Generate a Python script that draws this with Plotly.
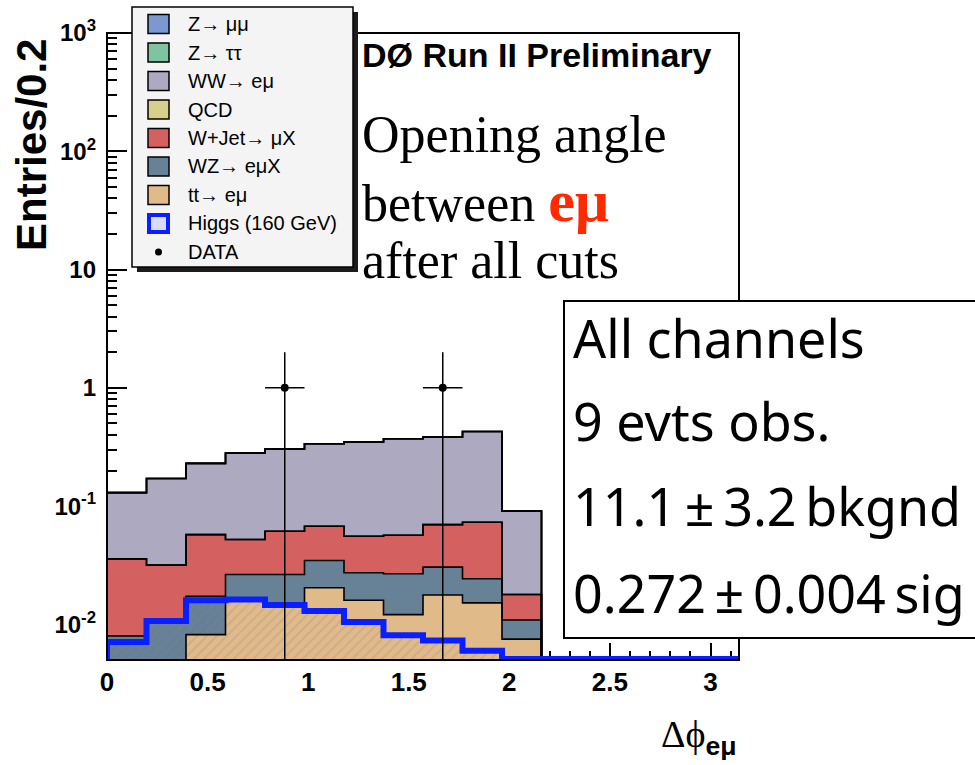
import numpy as np
import plotly.graph_objects as go

# ---- binning: 16 bins over [0, pi], "Entries/0.2" ----
N_BINS = 16
BIN_W = np.pi / N_BINS
edges = np.arange(N_BINS + 1) * BIN_W
centers = edges[:-1] + BIN_W / 2

# ---- expected events per bin for each process ----
z_mumu   = [0, 0, 0, 0, 0, 0, 0, 0, 0, 0, 0, 0, 0, 0, 0, 0]
z_tautau = [0, 0, 0, 0, 0, 0, 0, 0, 0, 0, 0, 0, 0, 0, 0, 0]
qcd      = [0, 0, 0, 0, 0, 0, 0, 0, 0, 0, 0, 0, 0, 0, 0, 0]
ttbar    = [0, 0, 0.0082, 0.0158, 0.0150, 0.0204, 0.0160, 0.0121, 0.0177, 0.0152, 0.0075, 0, 0, 0, 0, 0]
wz       = [0.0080, 0.0106, 0.0091, 0.0106, 0.0114, 0.0143, 0.0113, 0.0147, 0.0128, 0.0091, 0.0034, 0, 0, 0, 0, 0]
wjet     = [0.0278, 0.0211, 0.0401, 0.0258, 0.0349, 0.0329, 0.0283, 0.0299, 0.0393, 0.0488, 0.0070, 0, 0, 0, 0, 0]
ww       = [0.0942, 0.1393, 0.1726, 0.2288, 0.2427, 0.2694, 0.2924, 0.3143, 0.3142, 0.3549, 0.0728, 0, 0, 0, 0, 0]
higgs    = [0.0071, 0.0107, 0.0160, 0.0162, 0.0146, 0.0130, 0.0105, 0.0081, 0.0073, 0.0060, 0.0051, 0.0051, 0.0051, 0.0051, 0.0051, 0.0051]
data_obs = [0, 0, 0, 0, 1, 0, 0, 0, 1, 0, 0, 0, 0, 0, 0, 0]

x_ticks = [0, 0.5, 1, 1.5, 2, 2.5, 3]
x_ticktext = ["0", "0.5", "1", "1.5", "2", "2.5", "3"]
y_ticks = [0.01, 0.1, 1, 10, 100, 1000]
y_ticktext = ["10<sup>-2</sup>", "10<sup>-1</sup>", "1", "10", "10<sup>2</sup>", "10<sup>3</sup>"]

# stack from bottom to top
stack = [
    ("tt→ eμ", ttbar, "#e0ba88"),
    ("WZ→ eμX", wz, "#678196"),
    ("W+Jet→ μX", wjet, "#d4605f"),
    ("QCD", qcd, "#d6d08c"),
    ("WW→ eμ", ww, "#aca9c1"),
    ("Z→ ττ", z_tautau, "#80c3a1"),
    ("Z→ μμ", z_mumu, "#7b98d0"),
]
legend_rows = [
    ("Z→ μμ", "#7b98d0"),
    ("Z→ ττ", "#80c3a1"),
    ("WW→ eμ", "#aca9c1"),
    ("QCD", "#d6d08c"),
    ("W+Jet→ μX", "#d4605f"),
    ("WZ→ eμX", "#678196"),
    ("tt→ eμ", "#e0ba88"),
]
HIGGS_BLUE = "#0a1fff"

Y_LO, Y_HI = np.log10(0.005), 3.0
FLOOR = 10 ** (Y_LO - 1)  # below the visible range, used to close outlines

# ---- figure geometry (pixels) ----
W, H = 975, 765
L, T, PW, PH = 107, 33, 632, 627


def fx(px):
    return (px - L) / PW


def fy(py):
    return (T + PH - py) / PH


fig = go.Figure()

# filled stack
cum = np.zeros(N_BINS)
outlines = []
for name, vals, color in stack:
    vals = np.asarray(vals, dtype=float)
    fig.add_trace(go.Bar(
        x=centers, y=vals, base=cum.copy(), width=BIN_W,
        marker=dict(color=color, line=dict(width=0)),
        name=name, showlegend=False, hoverinfo="skip",
    ))
    cum = cum + vals
    outlines.append(cum.copy())

# black step outlines of each cumulative level
for c in outlines:
    if not np.any(c > 0):
        continue
    yy = np.where(c > 0, c, FLOOR)
    fig.add_trace(go.Scatter(
        x=np.concatenate([[edges[0]], edges]),
        y=np.concatenate([[FLOOR], yy, [yy[-1]]]),
        mode="lines", line=dict(color="black", width=1.6, shape="hv"),
        showlegend=False, hoverinfo="skip",
    ))

# Higgs signal: hatched fill + thick blue outline
higgs_arr = np.asarray(higgs, dtype=float)
fig.add_trace(go.Bar(
    x=centers, y=higgs_arr, width=BIN_W,
    marker=dict(color="rgba(0,0,0,0)", line=dict(width=0),
                pattern=dict(shape="/", fgcolor="rgba(110,100,150,0.35)",
                             bgcolor="rgba(0,0,0,0)", size=7, solidity=0.25)),
    showlegend=False, hoverinfo="skip",
))
fig.add_trace(go.Scatter(
    x=np.concatenate([[edges[0]], edges]),
    y=np.concatenate([[FLOOR], higgs_arr, [higgs_arr[-1]]]),
    mode="lines", line=dict(color=HIGGS_BLUE, width=6, shape="hv"),
    showlegend=False, hoverinfo="skip",
))

# observed data
obs = np.asarray(data_obs, dtype=float)
sel = obs > 0
obs_err = np.sqrt(obs[sel])
fig.add_trace(go.Scatter(
    x=centers[sel], y=obs[sel], mode="markers",
    marker=dict(color="black", size=8),
    error_y=dict(type="data", symmetric=False, array=obs_err,
                 arrayminus=np.minimum(obs_err, obs[sel] - FLOOR),
                 width=0, thickness=1.5, color="black"),
    error_x=dict(type="data", array=np.full(sel.sum(), BIN_W / 2),
                 width=0, thickness=1.5, color="black"),
    showlegend=False, hoverinfo="skip",
))

tick_font_y = dict(family="Liberation Sans", size=24, color="black", weight="bold")
tick_font_x = dict(family="Liberation Sans", size=26, color="black", weight="bold")

fig.update_layout(
    width=W, height=H,
    margin=dict(l=L, r=W - L - PW, t=T, b=H - T - PH, pad=0),
    paper_bgcolor="white", plot_bgcolor="white",
    barmode="overlay", bargap=0,
    showlegend=False,
    xaxis=dict(
        range=[0, np.pi], showgrid=False, zeroline=False, showline=False,
        tickmode="array", tickvals=x_ticks, ticktext=x_ticktext,
        ticks="inside", ticklen=17, tickwidth=1.5, tickcolor="black",
        minor=dict(dtick=0.1, ticks="inside", ticklen=9, tickwidth=1.5, tickcolor="black"),
        tickfont=tick_font_x, ticklabelstandoff=4, layer="below traces",
    ),
    yaxis=dict(
        type="log", range=[Y_LO, Y_HI], showgrid=False, zeroline=False, showline=False,
        tickmode="array", tickvals=y_ticks, ticktext=y_ticktext,
        ticks="inside", ticklen=20, tickwidth=1.5, tickcolor="black",
        minor=dict(tickmode="array",
                   tickvals=[m * 10.0 ** k for k in range(-3, 3) for m in range(2, 10)],
                   ticks="inside", ticklen=10, tickwidth=1.5, tickcolor="black"),
        tickfont=tick_font_y, ticklabelstandoff=10, layer="below traces",
    ),
)

shapes = []
# plot frame
shapes.append(dict(type="rect", xref="x domain", yref="y domain", x0=0, x1=1, y0=0, y1=1,
                   line=dict(color="black", width=2), fillcolor="rgba(0,0,0,0)", layer="above"))

# legend box with drop shadow
LEG = (132, 7, 353, 267)
shapes.append(dict(type="rect", xref="paper", yref="paper",
                   x0=fx(LEG[0] + 5), x1=fx(LEG[2] + 5), y0=fy(LEG[3] + 5), y1=fy(LEG[1] + 5),
                   line=dict(width=0), fillcolor="#1c1c1c", layer="above"))
shapes.append(dict(type="rect", xref="paper", yref="paper",
                   x0=fx(LEG[0]), x1=fx(LEG[2]), y0=fy(LEG[3]), y1=fy(LEG[1]),
                   line=dict(color="black", width=1.5), fillcolor="#f4f4f4", layer="above"))

legend_font = dict(family="Liberation Sans", size=20, color="black")
annotations = []
row_y = [24 + 28.5 * i for i in range(9)]
for (label, color), ry in zip(legend_rows, row_y):
    shapes.append(dict(type="rect", xref="paper", yref="paper",
                       x0=fx(148), x1=fx(169), y0=fy(ry + 9.5), y1=fy(ry - 9.5),
                       line=dict(color="black", width=1.5), fillcolor=color, layer="above"))
    annotations.append(dict(text=label, x=fx(186), y=fy(ry), xref="paper", yref="paper",
                            xanchor="left", yanchor="middle", showarrow=False, font=legend_font))
# Higgs entry
shapes.append(dict(type="rect", xref="paper", yref="paper",
                   x0=fx(149), x1=fx(168), y0=fy(row_y[7] + 8.5), y1=fy(row_y[7] - 8.5),
                   line=dict(color=HIGGS_BLUE, width=4), fillcolor="#d8dcf4", layer="above"))
annotations.append(dict(text="Higgs (160 GeV)", x=fx(186), y=fy(row_y[7]), xref="paper", yref="paper",
                        xanchor="left", yanchor="middle", showarrow=False, font=legend_font))
# DATA entry
shapes.append(dict(type="circle", xref="paper", yref="paper",
                   x0=fx(155), x1=fx(162), y0=fy(row_y[8] + 3.5), y1=fy(row_y[8] - 3.5),
                   line=dict(width=0), fillcolor="black", layer="above"))
annotations.append(dict(text="DATA", x=fx(186), y=fy(row_y[8]), xref="paper", yref="paper",
                        xanchor="left", yanchor="middle", showarrow=False, font=legend_font))

# summary box
shapes.append(dict(type="rect", xref="paper", yref="paper",
                   x0=fx(564), x1=fx(990), y0=fy(638), y1=fy(301),
                   line=dict(color="black", width=2), fillcolor="white", layer="above"))
summary_lines = ["All channels", "9 evts obs.", "11.1\u2009±\u20093.2\u2009bkgnd", "0.272\u2009±\u20090.004\u2009sig"]
for txt, base in zip(summary_lines, [357, 440, 525, 612]):
    annotations.append(dict(text=txt, x=fx(571), y=fy(base - 20), xref="paper", yref="paper",
                            xanchor="left", yanchor="middle", showarrow=False,
                            font=dict(family="Noto Sans", size=52, color="black")))

# experiment tag and description
annotations.append(dict(text="DØ Run II Preliminary", x=fx(360), y=fy(55), xref="paper", yref="paper",
                        xanchor="left", yanchor="middle", showarrow=False,
                        font=dict(family="Liberation Sans", size=34, color="black", weight="bold")))
desc = ["Opening angle",
        "between <span style='color:#ff2a00;font-size:60px'><b>eμ</b></span>",
        "after all cuts"]
for txt, base in zip(desc, [152, 218, 277]):
    annotations.append(dict(text=txt, x=fx(360), y=fy(base - 17), xref="paper", yref="paper",
                            xanchor="left", yanchor="middle", showarrow=False,
                            font=dict(family="Liberation Serif", size=52, color="black")))

# axis titles
annotations.append(dict(text="Entries/0.2", x=fx(31), y=fy(145), xref="paper", yref="paper",
                        xanchor="center", yanchor="middle", textangle=-90, showarrow=False,
                        font=dict(family="Liberation Sans", size=42, color="black", weight="bold")))
annotations.append(dict(text="Δ\u03d5<sub><span style='font-family:Liberation Sans;font-weight:bold'>eμ</span></sub>",
                        x=fx(739), y=fy(737), xref="paper", yref="paper",
                        xanchor="right", yanchor="middle", showarrow=False,
                        font=dict(family="Liberation Serif", size=38, color="black")))

fig.update_layout(shapes=shapes, annotations=annotations)
fig.write_html("out.html")
